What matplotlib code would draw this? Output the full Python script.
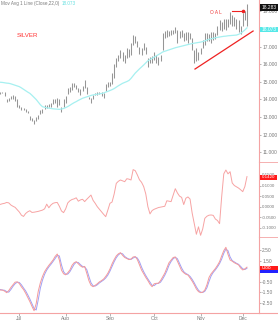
import matplotlib
matplotlib.use("Agg")
import matplotlib.pyplot as plt
from matplotlib.patches import Rectangle
from matplotlib.lines import Line2D

# ---------------- data ----------------
months = ["Jul", "Aug", "Sep", "Oct", "Nov", "Dec"]
month_pos = [9, 31, 52, 73, 95, 115]

low = [14.30,14.35,14.20,13.85,13.90,14.00,14.00,13.90,13.60,13.50,
       13.40,13.40,13.30,13.25,12.85,12.75,12.60,12.80,12.90,13.20,
       13.25,13.45,13.50,13.60,13.60,13.75,13.80,13.60,13.70,13.30,
       13.55,13.80,14.30,14.40,14.55,14.70,14.60,14.40,14.25,14.50,
       14.65,14.30,14.00,13.80,14.05,14.25,14.25,14.30,14.20,14.10,
       14.50,14.70,14.75,14.90,15.20,15.85,16.20,16.35,16.20,16.10,
       16.35,16.40,16.50,17.10,17.20,17.00,16.60,16.50,16.80,16.60,
       15.85,16.05,16.10,16.25,16.10,15.95,16.20,16.80,17.50,17.55,
       17.60,17.65,17.70,17.80,17.20,17.50,17.55,17.30,17.40,17.20,
       17.45,16.80,16.10,16.20,16.25,16.60,16.90,17.10,17.30,17.30,
       17.20,17.40,17.45,17.65,17.95,17.90,18.00,17.95,18.10,18.30,
       18.20,18.20,18.00,17.85,17.70,18.15,18.50,18.20]
high = [14.45,14.40,14.40,14.00,14.10,14.20,14.25,14.20,14.00,13.70,
        13.55,13.50,13.45,13.35,13.05,12.95,12.85,13.00,13.10,13.40,
        13.45,13.70,13.70,13.75,13.80,14.00,14.00,14.10,14.05,13.60,
        14.00,14.20,14.65,14.70,14.95,14.95,14.85,14.65,14.60,14.75,
        15.10,14.70,14.15,14.10,14.25,14.35,14.40,14.45,14.40,14.35,
        14.90,15.00,15.00,15.50,16.00,16.35,16.50,16.80,16.70,16.50,
        16.90,16.85,17.20,17.65,17.60,17.30,17.00,16.90,17.20,17.00,
        16.35,16.40,16.45,16.70,16.50,16.40,16.50,17.75,17.90,17.95,
        17.90,17.95,17.95,18.10,17.95,17.90,17.95,17.80,17.85,17.85,
        17.80,17.50,16.80,16.95,16.70,16.95,17.40,17.80,17.75,17.70,
        17.85,17.85,17.75,18.20,18.50,18.40,18.55,18.60,18.60,18.95,
        18.80,18.70,18.60,18.50,18.20,18.90,19.05,19.45]
mov_avg = [14.98,14.97,14.95,14.93,14.92,14.89,14.85,14.81,14.77,14.73,
           14.66,14.58,14.50,14.42,14.35,14.24,14.12,14.00,13.85,13.70,
           13.59,13.56,13.53,13.51,13.49,13.47,13.46,13.45,13.44,13.46,
           13.49,13.54,13.60,13.67,13.75,13.82,13.88,13.95,14.01,14.07,
           14.11,14.15,14.19,14.23,14.26,14.28,14.30,14.32,14.34,14.37,
           14.42,14.46,14.51,14.56,14.62,14.70,14.78,14.85,14.92,14.97,
           15.02,15.08,15.20,15.35,15.50,15.62,15.74,15.85,15.96,16.08,
           16.20,16.27,16.34,16.41,16.48,16.55,16.62,16.70,16.74,16.78,
           16.82,16.86,16.90,16.94,16.97,17.00,17.03,17.06,17.09,17.12,
           17.15,17.18,17.20,17.22,17.24,17.26,17.29,17.33,17.38,17.42,
           17.45,17.48,17.51,17.53,17.55,17.57,17.59,17.60,17.62,17.63,
           17.64,17.65,17.66,17.70,17.76,17.85,17.95,18.07]
mid_ind = [0.011,0.014,0.016,0.020,0.018,0.008,0.002,-0.003,-0.014,-0.025,
           -0.040,-0.046,-0.032,-0.024,-0.019,-0.027,-0.026,-0.024,-0.022,-0.019,
           -0.016,-0.010,0.012,-0.005,0.008,0.016,0.019,0.020,0.002,-0.020,
           -0.028,-0.010,0.018,0.028,0.034,0.037,0.042,0.026,0.032,0.035,
           0.024,0.035,0.045,0.055,0.030,0.016,0.000,-0.012,-0.024,-0.036,
           -0.047,-0.016,0.016,0.022,0.060,0.110,0.120,0.126,0.122,0.118,
           0.132,0.130,0.126,0.175,0.170,0.150,0.127,0.115,0.095,0.060,
           0.000,-0.034,-0.018,-0.012,-0.008,-0.004,-0.002,0.000,0.002,0.028,
           0.026,0.024,0.055,0.085,0.065,0.050,0.044,0.010,0.040,0.046,
           0.036,-0.030,-0.080,-0.130,-0.095,-0.135,-0.105,-0.055,-0.045,-0.040,
           -0.039,-0.041,-0.058,-0.065,-0.080,0.047,0.155,0.173,0.155,0.165,
           0.112,0.100,0.094,0.088,0.080,0.071,0.095,0.142]
osc_red = [-1.30,-1.30,-1.40,-1.55,-1.35,-1.05,-0.80,-0.55,-0.52,-0.68,
           -1.00,-1.25,-1.60,-2.00,-2.40,-2.85,-3.27,-2.60,-1.40,-0.60,
           0.00,0.45,0.77,1.05,1.30,1.56,1.90,2.13,1.56,0.60,
           0.25,0.15,0.35,0.61,1.05,1.30,1.40,1.20,1.00,0.87,
           0.95,0.30,-0.40,-0.85,-0.98,-0.85,-0.70,-0.52,-0.40,-0.25,
           0.00,0.30,0.70,1.20,1.60,1.95,2.15,2.26,2.00,1.80,
           1.70,1.60,1.65,1.85,1.88,1.60,1.10,0.60,0.25,-0.10,
           -0.40,-0.75,-0.98,-0.70,-0.66,-0.65,-0.40,-0.05,0.30,0.80,
           1.30,1.55,1.80,1.85,1.45,1.00,0.55,0.35,0.20,0.13,
           -0.15,-0.45,-0.80,-1.20,-1.45,-1.55,-1.50,-1.30,-0.80,-0.10,
           0.25,0.50,0.75,1.05,1.40,1.95,2.45,2.77,2.10,1.56,
           1.45,1.30,1.20,1.10,0.80,0.61,0.72,0.88]
osc_blue = [-1.25,-1.30,-1.32,-1.45,-1.50,-1.25,-0.95,-0.70,-0.55,-0.58,
            -0.80,-1.10,-1.38,-1.75,-2.15,-2.60,-3.05,-3.20,-2.20,-1.10,
            -0.35,0.20,0.60,0.90,1.15,1.42,1.70,2.00,1.95,1.10,
            0.45,0.20,0.22,0.45,0.80,1.15,1.35,1.32,1.12,0.95,
            0.90,0.65,0.00,-0.60,-0.90,-0.92,-0.80,-0.62,-0.48,-0.34,
            -0.15,0.12,0.50,0.95,1.40,1.78,2.05,2.20,2.15,1.90,
            1.75,1.65,1.62,1.75,1.86,1.75,1.40,0.88,0.45,0.08,
            -0.25,-0.55,-0.85,-0.88,-0.70,-0.66,-0.55,-0.25,0.10,0.52,
            1.05,1.42,1.68,1.82,1.68,1.25,0.80,0.45,0.28,0.17,
            0.00,-0.28,-0.62,-1.00,-1.32,-1.50,-1.53,-1.42,-1.08,-0.48,
            0.05,0.38,0.62,0.90,1.22,1.65,2.20,2.60,2.45,1.85,
            1.50,1.38,1.25,1.15,0.95,0.72,0.65,0.78]

price_ticks = [11, 12, 13, 14, 15, 16, 17, 18, 19]
mid_ticks = [0.15, 0.10, 0.05, 0.0, -0.05, -0.10]
osc_ticks = [2.5, 1.5, 0.5, -0.5, -1.5, -2.5]

last_close_label = "18.283"
ma_label = "18.073"
mid_label = "0.1420"
osc_label = "0.88"
trend_x = [92.35, 119.9]
trend_y = [15.73, 17.89]

n = len(low)
assert len(high) == n and len(mov_avg) == n and len(mid_ind) == n
assert len(osc_red) == n and len(osc_blue) == n
days = list(range(n))

# ---------------- figure ----------------
W, H = 278, 320
plt.rcParams['font.family'] = ['Liberation Sans', 'DejaVu Sans']
fig = plt.figure(figsize=(W / 100, H / 100), dpi=100)
fig.patch.set_facecolor('white')

AX_R = 259.3
PINK = '#f4a3a3'
GREY_TXT = '#7a7a7a'
FS = 3.5


def axpix(y0, y1):
    return fig.add_axes([0, 1 - y1 / H, AX_R / W, (y1 - y0) / H])


def style(ax, ylim, ticks, fmt, fs=FS):
    ax.set_xlim(-0.16, 122.85)
    ax.set_ylim(*ylim)
    for s in ('left', 'top', 'bottom'):
        ax.spines[s].set_visible(False)
    ax.spines['right'].set_color(PINK)
    ax.spines['right'].set_linewidth(0.8)
    ax.yaxis.tick_right()
    ax.set_yticks(ticks)
    ax.set_yticklabels([fmt % t for t in ticks])
    ax.tick_params(axis='y', labelsize=fs, colors=GREY_TXT, length=1.6,
                   width=0.4, pad=0.5)
    ax.tick_params(axis='x', bottom=False, labelbottom=False)
    ax.patch.set_alpha(0)


ax1 = axpix(0, 161.7)
ax2 = axpix(161.7, 236.7)
ax3 = axpix(236.7, 312.7)

style(ax1, (10.466, 19.653), price_ticks, "%.3f")
style(ax2, (-0.1415, 0.2123), mid_ticks, "%.4f", fs=3.2)
style(ax3, (-3.457, 3.78), osc_ticks, "%.2f")

# price bars
ax1.vlines(days, low, high, color='#969696', lw=0.75)
ax1.plot(days, mov_avg, color='#a6f0f0', lw=0.9)
ax1.plot(trend_x, trend_y, color='#ee2222', lw=0.9)

# middle indicator
ax2.plot(days, mid_ind, color='#f7a3a3', lw=0.7)

# oscillator
ax3.plot(days, osc_blue, color='#a0a0f4', lw=0.7)
ax3.plot(days, osc_red, color='#f59a9a', lw=0.7)
ax3.spines['bottom'].set_visible(True)
ax3.spines['bottom'].set_color(PINK)
ax3.spines['bottom'].set_linewidth(0.8)
ax3.set_xticks(month_pos)
ax3.set_xticklabels(months)
ax3.set_xticks(list(range(4, 121, 5)), minor=True)
ax3.tick_params(axis='x', bottom=True, labelbottom=True, labelsize=FS,
                colors=GREY_TXT, length=1.8, width=0.4, pad=0.6)
ax3.tick_params(axis='x', which='minor', length=1.0, width=0.3, colors=PINK)

# annotation arrow + text at top
ax1.plot([110, 115.2], [19.03, 19.03], color='#ee2222', lw=0.8)
ax1.plot([115.2], [19.03], marker='o', ms=1.6, color='#ee2222')
ax1.text(99.5, 18.93, "O A L", color='#ee3333', fontsize=3.4, va='center')


def fx(px):
    return px / W


def fy(py):
    return 1 - py / H


fig.text(fx(1), fy(3.6), "Mov Avg 1 Line (Close,22,0)", fontsize=3.3,
         color=GREY_TXT, va='center', ha='left')
fig.text(fx(62), fy(3.6), ma_label, fontsize=3.3, color='#66e0e0',
         va='center', ha='left')
fig.text(fx(17), fy(35.5), "SILVER", fontsize=4.4, color='#ff3030',
         va='center', ha='left')

# separators at right side
for yy in (161.7, 236.7):
    fig.add_artist(Line2D([fx(AX_R), 1], [fy(yy), fy(yy)], color=PINK, lw=0.6))
fig.add_artist(Line2D([fx(AX_R), 1], [fy(312.7), fy(312.7)], color=PINK, lw=0.8))


def box(y0, y1, color, text, tcolor='white', x1=278, fs=FS):
    fig.add_artist(Rectangle((fx(AX_R + 0.4), fy(y1)), fx(x1) - fx(AX_R + 0.4),
                             fy(y0) - fy(y1), transform=fig.transFigure,
                             facecolor=color, edgecolor='none', zorder=5))
    if text:
        fig.text(fx(AX_R + 2.5), fy((y0 + y1) / 2), text, fontsize=fs,
                 color=tcolor, va='center', ha='left', zorder=6)


box(4, 11, '#111111', last_close_label)
box(26.7, 32.3, '#55e8e8', ma_label)
box(174.5, 180, '#ff1a1a', mid_label, x1=277, fs=3.2)
box(265.5, 270.2, '#ff1a1a', osc_label)
box(270.2, 273, '#2222ff', None)

fig.savefig("out.png", dpi=100, facecolor='white')
